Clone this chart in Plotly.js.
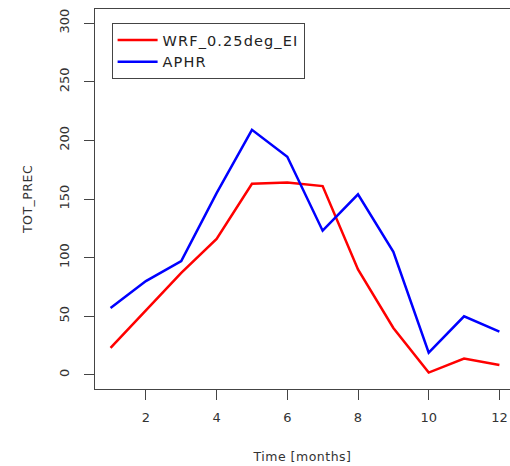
<!DOCTYPE html>
<html><head><meta charset="utf-8">
<script src="https://cdn.plot.ly/plotly-3.0.1.min.js"></script>
<style>
html,body{margin:0;padding:0;background:#fff}
.legendtext{letter-spacing:1.1px}
.xtitle{letter-spacing:0.5px}
.ytitle{letter-spacing:0.5px}
</style>
</head><body><div id="chart" style="width:510px;height:466px"></div>
<script>
const months = [1,2,3,4,5,6,7,8,9,10,11,12];
const wrf = [23, 55, 87, 116, 163, 164, 161, 90, 40, 2, 14, 8.5];
const aphr = [57, 80, 97, 155, 209, 186, 123, 154, 105, 19, 50, 37];
const xTicks = [2,4,6,8,10,12];
const yTicks = [0,50,100,150,200,250,300];
const fam = 'DejaVu Sans, Liberation Sans, sans-serif';
const tickFont = {family:fam, size:13, color:'#333'};
const titleFont = {family:fam, size:12.5, color:'#333'};
const legFont = {family:fam, size:14.5, color:'#222'};
const traces = [
  {x:months, y:wrf, type:'scatter', mode:'lines', name:'WRF_0.25deg_EI', line:{color:'#ff0000', width:2.5}},
  {x:months, y:aphr, type:'scatter', mode:'lines', name:'APHR', line:{color:'#0000ff', width:2.5}}
];
const layout = {
  width:510, height:466,
  margin:{l:95, r:0, t:9, b:77},
  paper_bgcolor:'#fff', plot_bgcolor:'#fff',
  font:tickFont,
  showlegend:true,
  legend:{x:0.04, y:0.963, xanchor:'left', yanchor:'top', bordercolor:'#444', borderwidth:1, bgcolor:'#fff',
          font:legFont, tracegroupgap:0, itemwidth:40},
  xaxis:{range:[0.56,12.30], tickvals:xTicks, ticktext:xTicks.map(String), ticks:'outside', ticklen:10, tickcolor:'#444',
         ticklabelstandoff:6,
         showline:true, linecolor:'#444', linewidth:1, mirror:true, showgrid:false, zeroline:false,
         tickfont:tickFont, title:{text:'Time [months]', font:titleFont, standoff:28}},
  yaxis:{range:[-12,312], tickvals:yTicks, ticktext:yTicks.map(String), ticks:'outside', ticklen:10, tickcolor:'#444',
         tickangle:-90, ticklabelstandoff:10, showline:true, linecolor:'#444', linewidth:1, mirror:false, showgrid:false, zeroline:false,
         tickfont:tickFont, title:{text:'TOT_PREC', font:titleFont, standoff:21}}
};
Plotly.newPlot('chart', traces, layout, {displayModeBar:false, staticPlot:true});
</script></body></html>
